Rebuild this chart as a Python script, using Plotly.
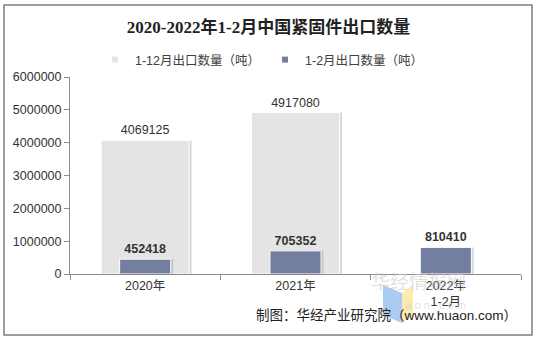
import plotly.graph_objects as go

# Export volumes (tonnes)
years = ["2020年", "2021年", "2022年<br>1-2月"]
full_year = [4069125, 4917080, None]      # Jan–Dec exports
jan_feb = [452418, 705352, 810410]        # Jan–Feb exports

full_year_labels = [f"{v}" if v is not None else "" for v in full_year]
jan_feb_labels = [f"<b>{v}</b>" for v in jan_feb]

name_full = "1-12月出口数量（吨）"
name_jf = "1-2月出口数量（吨）"

W, H = 537, 341
L, R, T, B = 70, 16, 77, 67
PW, PH = W - L - R, H - T - B


def px(x):
    return (x - L) / PW


def py(y):
    return (H - B - y) / PH


FONT = "Liberation Sans, Arial, Noto Sans CJK SC, sans-serif"
GRAY = "#e3e4e3"
BLUE = "#747ea1"
SHADOW = "rgba(110,110,110,0.28)"

wide, narrow = 0.585, 0.34
sh = 0.016  # shadow offset in category units

fig = go.Figure()

# drop shadows behind the bars
fig.add_trace(go.Bar(x=years, y=full_year, width=wide, offset=-wide / 2 + sh,
                     marker=dict(color=SHADOW, line=dict(width=0)),
                     showlegend=False, hoverinfo="skip"))
fig.add_trace(go.Bar(x=years, y=full_year, width=wide, offset=-wide / 2,
                     marker=dict(color=GRAY, line=dict(color="white", width=1)),
                     text=full_year_labels, textposition="outside",
                     textfont=dict(size=12.5, color="#333333", family=FONT),
                     cliponaxis=False, showlegend=False, name=name_full))
fig.add_trace(go.Bar(x=years, y=jan_feb, width=narrow, offset=-narrow / 2 + sh,
                     marker=dict(color=SHADOW, line=dict(width=0)),
                     showlegend=False, hoverinfo="skip"))
fig.add_trace(go.Bar(x=years, y=jan_feb, width=narrow, offset=-narrow / 2,
                     marker=dict(color=BLUE, line=dict(color="white", width=1)),
                     text=jan_feb_labels, textposition="outside",
                     textfont=dict(size=12.5, color="#333333", family=FONT),
                     cliponaxis=False, showlegend=False, name=name_jf))

# legend entries with small square markers
fig.add_trace(go.Scatter(x=[None], y=[None], mode="markers", name=name_full,
                         marker=dict(symbol="square", size=6, color=GRAY)))
fig.add_trace(go.Scatter(x=[None], y=[None], mode="markers", name=name_jf,
                         marker=dict(symbol="square", size=6, color=BLUE)))

shapes = [
    # outer frame
    dict(type="rect", xref="paper", yref="paper",
         x0=px(4), x1=px(532), y0=py(335), y1=py(5),
         line=dict(color="#7f7f7f", width=1.5), layer="above"),
    # watermark logo
    dict(type="path", xref="paper", yref="paper", layer="below",
         path=f"M {px(383)} {py(285)} L {px(402)} {py(293)} L {px(402)} {py(323)} L {px(383)} {py(315)} Z",
         fillcolor="rgba(140,185,240,0.75)", line=dict(width=0)),
    dict(type="path", xref="paper", yref="paper", layer="below",
         path=f"M {px(413)} {py(285)} L {px(402)} {py(293)} L {px(402)} {py(323)} L {px(413)} {py(315)} Z",
         fillcolor="rgba(252,230,150,0.8)", line=dict(width=0)),
]

annotations = [
    dict(text="华经情报网", xref="paper", yref="paper", x=px(468), y=py(296),
         showarrow=False, font=dict(size=19, color="rgba(200,200,200,0.55)",
                                    family="Noto Sans CJK SC")),
    dict(text="h u a o n . c o m", xref="paper", yref="paper", x=px(468), y=py(313),
         showarrow=False, font=dict(size=11, color="rgba(205,205,205,0.6)", family=FONT)),
    dict(text="制图：华经产业研究院（www.huaon.com）", xref="paper", yref="paper",
         x=px(519), y=py(325), xanchor="right", showarrow=False,
         font=dict(size=13.5, color="#222222", family=FONT)),
]

fig.update_layout(
    width=W, height=H,
    margin=dict(l=L, r=R, t=T, b=B, autoexpand=False),
    paper_bgcolor="white", plot_bgcolor="white",
    barmode="overlay",
    title=dict(text="<b>2020-2022年1-2月中国紧固件出口数量</b>",
               x=0.5, xref="container", xanchor="center",
               y=1 - 27 / H, yanchor="middle",
               font=dict(size=17, color="#222222",
                         family="Liberation Serif, Noto Sans CJK SC, serif")),
    legend=dict(orientation="h", x=px(262), xanchor="center", xref="paper",
                y=py(60), yanchor="middle", font=dict(size=12.5, color="#404040", family=FONT),
                itemwidth=30, bgcolor="rgba(0,0,0,0)"),
    font=dict(family=FONT, color="#404040"),
    shapes=shapes,
    annotations=annotations,
    xaxis=dict(showline=True, linecolor="#8c8c8c", linewidth=1,
               ticks="outside", tickson="boundaries", ticklen=5, tickcolor="#8c8c8c",
               tickfont=dict(size=12.5, color="#333333"), showgrid=False,
               automargin=False, tickangle=0),
    yaxis=dict(range=[0, 6000000], dtick=1000000, tickformat="d",
               showline=True, linecolor="#8c8c8c", linewidth=1,
               ticks="outside", ticklen=5, tickcolor="#8c8c8c",
               tickfont=dict(size=12.5, color="#333333"), showgrid=False,
               zeroline=False, automargin=False),
)

fig.write_html("out.html")
